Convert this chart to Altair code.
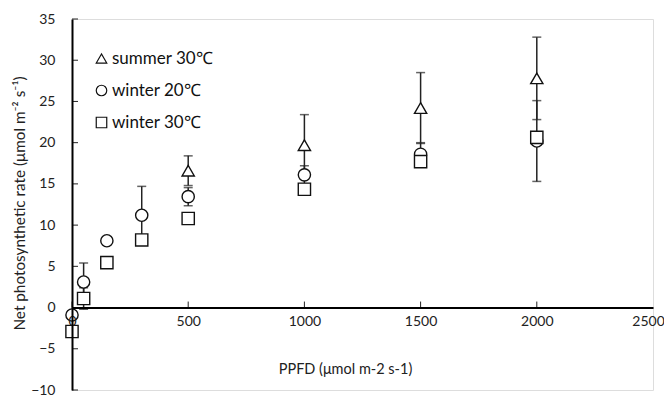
import altair as alt
import pandas as pd

# ---- data ----
series_names = ["summer 30℃", "winter 20℃", "winter 30℃"]

ppfd_summer = [500, 1000, 1500, 2000]
rate_summer = [16.6, 19.7, 24.2, 27.8]
err_summer = [1.8, 3.7, 4.3, 5.0]

ppfd_winter = [0, 50, 150, 300, 500, 1000, 1500, 2000]
rate_w20 = [-0.9, 3.1, 8.1, 11.2, 13.45, 16.1, 18.6, 20.2]
err_w20 = [0, 2.3, 0, 3.5, 1.1, 1.1, 1.4, 4.9]
rate_w30 = [-2.9, 1.1, 5.45, 8.2, 10.8, 14.35, 17.7, 20.65]
err_w30 = [0, 1.3, 0, 0, 0, 0, 0, 0]

x_ticks = [0, 500, 1000, 1500, 2000, 2500]
y_ticks = [-10, -5, 0, 5, 10, 15, 20, 25, 30, 35]

rows = []
for name, xs, ys, es in [
    (series_names[0], ppfd_summer, rate_summer, err_summer),
    (series_names[1], ppfd_winter, rate_w20, err_w20),
    (series_names[2], ppfd_winter, rate_w30, err_w30),
]:
    for x, y, e in zip(xs, ys, es):
        rows.append({"series": name, "ppfd": x, "rate": y, "lo": y - e, "hi": y + e, "err": e})
df = pd.DataFrame(rows)
df_err = df[df["err"] > 0]

FONT = "Lato"

xscale = alt.Scale(domain=[0, 2500], nice=False, zero=False)
yscale = alt.Scale(domain=[-10, 35], nice=False, zero=False)

x_axis = alt.Axis(values=x_ticks, format="d", title="PPFD (μmol m-2 s-1)", offset=-82.5,
                  ticks=False, grid=False, domainColor="black", zindex=1,
                  labelFlush=False, labelOverlap=False,
                  labelOffset={"condition": {"test": "datum.value == 2500", "value": -5}, "value": 0},
                  domainWidth=2, labelPadding=7, labelFontSize=14, labelFont=FONT,
                  labelColor="#222", titleFont=FONT, titleFontSize=14.5,
                  titleFontWeight="normal", titleColor="#222",
                  titleX=273, titleY=62, titleBaseline="middle", titleAlign="center")
y_axis = alt.Axis(values=y_ticks, title="Net photosynthetic rate (μmol m⁻² s⁻¹)",
                  ticks=False, grid=False, domainColor="black", zindex=1,
                  labelFlush=False, labelOverlap=False,
                  domainWidth=2, labelPadding=17, labelFontSize=14, labelFont=FONT,
                  labelColor="#222", titleFont=FONT, titleFontSize=15.3,
                  titleFontWeight="normal", titleColor="#222",
                  titleX=-53, titleY=184, titleAngle=-90,
                  titleBaseline="middle", titleAlign="center")

err_rule = alt.Chart(df_err).mark_rule(color="#222", strokeWidth=1.5).encode(
    x=alt.X("ppfd:Q", scale=xscale, axis=x_axis),
    y=alt.Y("lo:Q", scale=yscale, axis=y_axis),
    y2="hi:Q",
)
cap_hi = alt.Chart(df_err).mark_tick(color="#222", orient="horizontal", size=9, thickness=1.5).encode(
    x=alt.X("ppfd:Q", scale=xscale),
    y=alt.Y("hi:Q", scale=yscale),
)
cap_lo = alt.Chart(df_err).mark_tick(color="#222", orient="horizontal", size=9, thickness=1.5).encode(
    x=alt.X("ppfd:Q", scale=xscale),
    y=alt.Y("lo:Q", scale=yscale),
)

legend = alt.Legend(title=None, orient="none", legendX=21, legendY=31,
                    symbolSize=110, symbolStrokeWidth=1.2, symbolFillColor="white",
                    labelFont=FONT, labelFontSize=17, labelColor="#111",
                    labelOffset=2, rowPadding=14, padding=0)

points = alt.Chart(df).mark_point(filled=False, fill="white", fillOpacity=1,
                                  strokeWidth=1.4, size=150).encode(
    x=alt.X("ppfd:Q", scale=xscale),
    y=alt.Y("rate:Q", scale=yscale),
    color=alt.Color("series:N", scale=alt.Scale(domain=series_names, range=["#111", "#111", "#111"]),
                    legend=legend),
    shape=alt.Shape("series:N",
                    scale=alt.Scale(domain=series_names, range=["triangle-up", "circle", "square"]),
                    legend=legend),
)

# inward tick marks on both axes
xtick_df = pd.DataFrame({"t": x_ticks[:-1], "z": [0] * (len(x_ticks) - 1)})
ytick_df = pd.DataFrame({"t": y_ticks})
xticks = alt.Chart(xtick_df).mark_rule(color="#222", strokeWidth=1, y2Offset=-6).encode(
    x=alt.X("t:Q", scale=xscale),
    y=alt.Y("z:Q", scale=yscale),
    y2="z:Q",
)
yticks = alt.Chart(ytick_df).mark_rule(color="#222", strokeWidth=1).encode(
    y=alt.Y("t:Q", scale=yscale),
    x=alt.value(0),
    x2=alt.value(6),
)

chart = alt.layer(err_rule, cap_hi, cap_lo, xticks, yticks, points).properties(
    width=581, height=371,
    autosize=alt.AutoSizeParams(type="none"),
    padding={"left": 64, "top": 11, "right": 11, "bottom": 7},
).configure_view(stroke="#333", strokeWidth=1).configure(background="white")

chart.save("out.html", embed_options={"renderer": "svg", "actions": False})
